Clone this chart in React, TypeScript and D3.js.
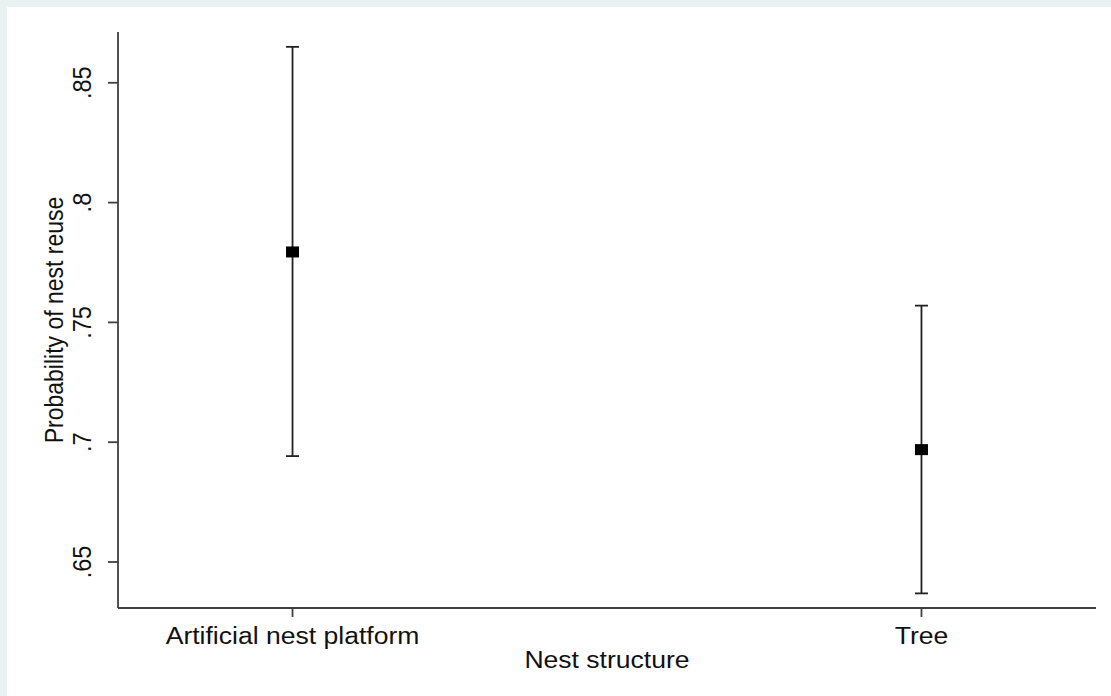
import React from "react";
import * as d3 from "d3";

const categories = ["Artificial nest platform", "Tree"];
const estimates = [0.7794, 0.6969];
const lowerCI = [0.6942, 0.6369];
const upperCI = [0.865, 0.757];
const yTickValues = [0.65, 0.7, 0.75, 0.8, 0.85];
const yTickLabels = [".65", ".7", ".75", ".8", ".85"];
const xTitle = "Nest structure";
const yTitle = "Probability of nest reuse";

const W = 1111;
const H = 696;
const left = 118;
const right = 1096;
const top = 32;
const bottom = 608;
const FONT = "'Liberation Sans', Arial, sans-serif";
const FS = 23.5;
const SX = 1.13;
const INK = "#111";
const AX = "#404040";

export default function App() {
  const y = d3.scaleLinear().domain([0.6308, 0.8712]).range([bottom, top]);
  const x = d3.scalePoint<string>().domain(categories).range([left, right]).padding(0.2775);

  return (
    <svg width={W} height={H} style={{ position: "absolute", left: 0, top: 0 }} fontFamily={FONT}>
      <rect x={0} y={0} width={W} height={H} fill="#eaf1f2" />
      <rect x={7} y={7} width={W - 7} height={H - 7} fill="#ffffff" />

      {/* axes */}
      <line x1={left} x2={left} y1={top} y2={bottom} stroke={AX} strokeWidth={1.8} />
      <line x1={left} x2={right} y1={bottom} y2={bottom} stroke={AX} strokeWidth={1.8} />

      {yTickValues.map((v, i) => (
        <g key={"yt" + i}>
          <line x1={left - 10} x2={left} y1={y(v)} y2={y(v)} stroke={AX} strokeWidth={1.8} />
          <text
            transform={`translate(91,${y(v)}) scale(${SX},1) rotate(-90)`}
            textAnchor="middle"
            fontSize={FS}
            fill={INK}
          >
            {yTickLabels[i]}
          </text>
        </g>
      ))}

      {categories.map((c) => (
        <g key={"xt" + c}>
          <line x1={x(c)} x2={x(c)} y1={bottom} y2={bottom + 9} stroke={AX} strokeWidth={1.8} />
          <text
            transform={`translate(${x(c)},644) scale(${SX},1)`}
            textAnchor="middle"
            fontSize={FS}
            fill={INK}
          >
            {c}
          </text>
        </g>
      ))}

      <text
        transform={`translate(${(left + right) / 2},668) scale(${SX},1)`}
        textAnchor="middle"
        fontSize={FS}
        fill={INK}
      >
        {xTitle}
      </text>
      <text
        transform={`translate(63,${(top + bottom) / 2}) scale(${SX},1) rotate(-90)`}
        textAnchor="middle"
        fontSize={23}
        fill={INK}
      >
        {yTitle}
      </text>

      {/* error bars and markers */}
      {categories.map((c, i) => {
        const cx = x(c) as number;
        return (
          <g key={"eb" + c}>
            <line x1={cx} x2={cx} y1={y(upperCI[i])} y2={y(lowerCI[i])} stroke="#222" strokeWidth={1.8} />
            <line x1={cx - 6.5} x2={cx + 6.5} y1={y(upperCI[i])} y2={y(upperCI[i])} stroke="#222" strokeWidth={1.8} />
            <line x1={cx - 6.5} x2={cx + 6.5} y1={y(lowerCI[i])} y2={y(lowerCI[i])} stroke="#222" strokeWidth={1.8} />
            <rect x={cx - 6.5} y={y(estimates[i]) - 5.5} width={13} height={11} fill="#000" />
          </g>
        );
      })}
    </svg>
  );
}
